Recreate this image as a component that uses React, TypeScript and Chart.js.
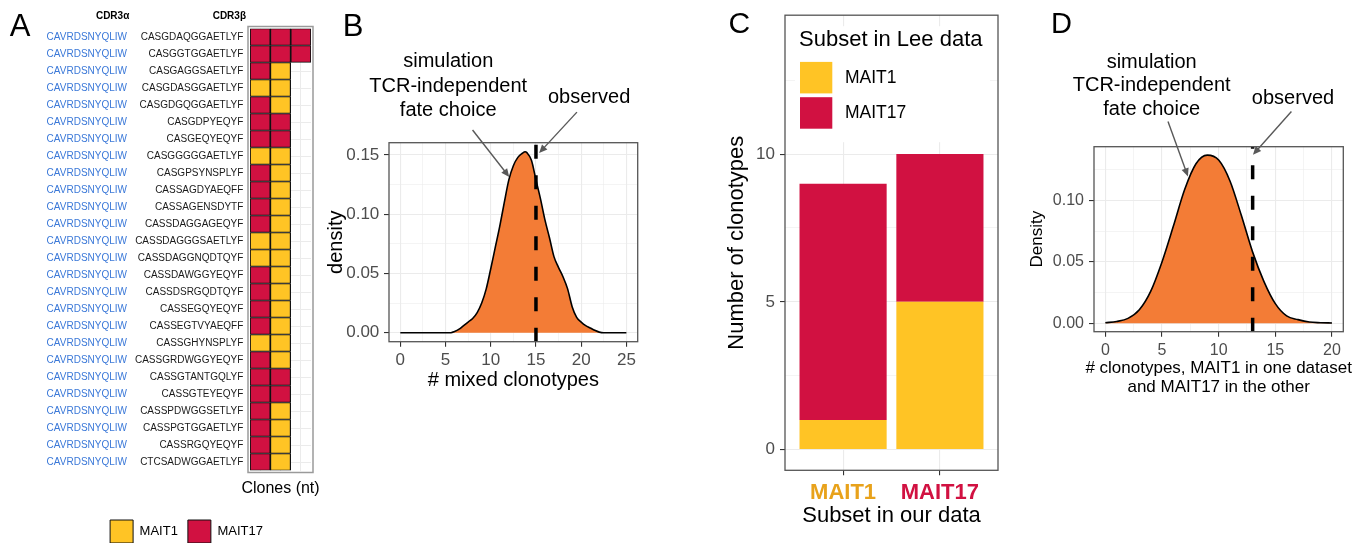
import React, { useEffect, useRef } from 'react';
import { Chart, registerables } from 'chart.js';

Chart.register(...registerables);

const FONT = '"Liberation Sans", Arial, Helvetica, sans-serif';
Chart.defaults.font.family = FONT;
Chart.defaults.color = '#000';

const YELLOW = '#FFC425';
const RED = '#D11141';
const ORANGE = '#F37C36';
const GRID = '#EBEBEB';
const TICK_TEXT = '#4D4D4D';
const AXIS_LINE = '#333333';
const BORDER = '#555555';
const BLUE = '#3A78D8';

// ---------------- Panel A data ----------------
const cdr3Alpha = [
  'CAVRDSNYQLIW', 'CAVRDSNYQLIW', 'CAVRDSNYQLIW', 'CAVRDSNYQLIW', 'CAVRDSNYQLIW',
  'CAVRDSNYQLIW', 'CAVRDSNYQLIW', 'CAVRDSNYQLIW', 'CAVRDSNYQLIW', 'CAVRDSNYQLIW',
  'CAVRDSNYQLIW', 'CAVRDSNYQLIW', 'CAVRDSNYQLIW', 'CAVRDSNYQLIW', 'CAVRDSNYQLIW',
  'CAVRDSNYQLIW', 'CAVRDSNYQLIW', 'CAVRDSNYQLIW', 'CAVRDSNYQLIW', 'CAVRDSNYQLIW',
  'CAVRDSNYQLIW', 'CAVRDSNYQLIW', 'CAVRDSNYQLIW', 'CAVRDSNYQLIW', 'CAVRDSNYQLIW',
  'CAVRDSNYQLIW',
];
const cdr3Beta = [
  'CASGDAQGGAETLYF', 'CASGGTGGAETLYF', 'CASGAGGSAETLYF', 'CASGDASGGAETLYF', 'CASGDGQGGAETLYF',
  'CASGDPYEQYF', 'CASGEQYEQYF', 'CASGGGGGAETLYF', 'CASGPSYNSPLYF', 'CASSAGDYAEQFF',
  'CASSAGENSDYTF', 'CASSDAGGAGEQYF', 'CASSDAGGGSAETLYF', 'CASSDAGGNQDTQYF', 'CASSDAWGGYEQYF',
  'CASSDSRGQDTQYF', 'CASSEGQYEQYF', 'CASSEGTVYAEQFF', 'CASSGHYNSPLYF', 'CASSGRDWGGYEQYF',
  'CASSGTANTGQLYF', 'CASSGTEYEQYF', 'CASSPDWGGSETLYF', 'CASSPGTGGAETLYF', 'CASSRGQYEQYF',
  'CTCSADWGGAETLYF',
];
const clone1Subset = [
  'MAIT17', 'MAIT17', 'MAIT17', 'MAIT1', 'MAIT17', 'MAIT17', 'MAIT17', 'MAIT1', 'MAIT17', 'MAIT17',
  'MAIT17', 'MAIT17', 'MAIT1', 'MAIT1', 'MAIT17', 'MAIT17', 'MAIT17', 'MAIT17', 'MAIT1', 'MAIT17',
  'MAIT17', 'MAIT17', 'MAIT17', 'MAIT17', 'MAIT17', 'MAIT17',
];
const clone2Subset = [
  'MAIT17', 'MAIT17', 'MAIT1', 'MAIT1', 'MAIT1', 'MAIT17', 'MAIT17', 'MAIT1', 'MAIT1', 'MAIT1',
  'MAIT1', 'MAIT1', 'MAIT1', 'MAIT1', 'MAIT1', 'MAIT1', 'MAIT1', 'MAIT1', 'MAIT1', 'MAIT1',
  'MAIT17', 'MAIT17', 'MAIT1', 'MAIT1', 'MAIT1', 'MAIT1',
];
const clone3Subset = [
  'MAIT17', 'MAIT17', null, null, null, null, null, null, null, null,
  null, null, null, null, null, null, null, null, null, null,
  null, null, null, null, null, null,
];
const subsetNames = ['MAIT1', 'MAIT17'];
const subsetColors: any = { MAIT1: YELLOW, MAIT17: RED };

// ---------------- Panel B data ----------------
const bMixedClonotypes = [
  0, 5, 5.6, 6, 6.5, 7, 7.5, 8, 8.5, 9, 9.5, 10, 10.5, 11, 11.5, 12, 12.5, 13, 13.5, 13.8,
  14, 14.5, 15, 15.5, 16, 16.5, 17, 17.5, 18, 18.5, 19, 19.5, 20, 20.5, 21, 21.5, 22, 22.5, 25,
];
const bDensity = [
  0, 0, 0, 0.001, 0.003, 0.006, 0.009, 0.012, 0.017, 0.025, 0.037, 0.054, 0.072, 0.09, 0.11, 0.129, 0.141, 0.148, 0.1515, 0.1528,
  0.152, 0.1455, 0.129, 0.113, 0.095, 0.08, 0.064, 0.055, 0.047, 0.037, 0.022, 0.013, 0.009, 0.006, 0.004, 0.002, 0.0005, 0, 0,
];
const bObserved = 15;
const bXMajor = [0, 5, 10, 15, 20, 25];
const bXMinor = [2.5, 7.5, 12.5, 17.5, 22.5];
const bYMajor = [0, 0.05, 0.1, 0.15];
const bYMinor = [0.025, 0.075, 0.125];

// ---------------- Panel C data ----------------
const cOurSubset = ['MAIT1', 'MAIT17'];
const cLeeMAIT1 = [1, 5];
const cLeeMAIT17 = [8, 5];
const cLabelColors = ['#E8A21B', '#D11141'];
const cYMajor = [0, 5, 10];
const cYMinor = [2.5, 7.5, 12.5];
const cLegendTitle = 'Subset in Lee data';

// ---------------- Panel D data ----------------
const dClonotypes = [0, 1, 2, 3, 4, 5, 6, 7, 8, 9, 10, 11, 12, 13, 14, 15, 16, 17, 18, 19, 20];
const dDensity = [
  0.0005, 0.0015, 0.004, 0.011, 0.026, 0.05, 0.079, 0.109, 0.13, 0.137, 0.133,
  0.116, 0.088, 0.058, 0.034, 0.016, 0.006, 0.003, 0.001, 0.0005, 0.0003,
];
const dObserved = 13;
const dXMajor = [0, 5, 10, 15, 20];
const dXMinor = [2.5, 7.5, 12.5, 17.5];
const dYMajor = [0, 0.05, 0.1];
const dYMinor = [0.025, 0.075, 0.125];

const simulationLines = ['simulation', 'TCR-independent', 'fate choice'];
const observedLines = ['observed'];

// ---------------- helpers ----------------
function linAxis(o: any) {
  const isMajor = (v: number) => o.majors.some((m: number) => Math.abs(m - v) < 1e-9);
  const horizontal = o.position === 'bottom';
  const all = [...o.majors, ...o.minors].sort((a: number, b: number) => a - b);
  return {
    type: 'linear',
    position: o.position,
    min: o.min,
    max: o.max,
    offset: false,
    stacked: !!o.stacked,
    afterBuildTicks: (s: any) => {
      s.ticks = all.map((v: number) => ({ value: v }));
    },
    afterFit: (s: any) => {
      if (horizontal) s.height = o.size;
      else s.width = o.size;
    },
    ticks: {
      autoSkip: false,
      maxRotation: 0,
      minRotation: 0,
      padding: o.pad,
      color: o.tickColor || TICK_TEXT,
      font: { size: o.fontSize, weight: o.bold ? 'bold' : 'normal' },
      callback: (v: number) => (isMajor(v) ? o.fmt(v) : ''),
    },
    grid: {
      offset: false,
      color: GRID,
      lineWidth: (c: any) => (c.tick && isMajor(c.tick.value) ? 1.1 : 0.55),
      tickColor: (c: any) => (c.tick && isMajor(c.tick.value) ? AXIS_LINE : 'rgba(0,0,0,0)'),
      tickLength: 5,
      tickWidth: 1.1,
      drawTicks: true,
    },
    border: { display: false },
    title: {
      display: !!o.title,
      text: o.title || '',
      color: '#000',
      font: { size: o.titleSize || 12, lineHeight: 1.2 },
      padding: horizontal ? { top: 0, bottom: o.titlePad || 0 } : { top: o.titlePad || 0, bottom: 0 },
    },
  };
}

// draws an x-axis title without Chart.js's maxWidth squeeze
function xTitlePlugin(lines: string[], size: number, firstOffset: number, gap: number) {
  return {
    id: 'xTitle',
    afterDraw(chart: any) {
      const { ctx, chartArea: a } = chart;
      ctx.save();
      ctx.font = `${size}px ${FONT}`;
      ctx.fillStyle = '#000';
      ctx.textAlign = 'center';
      ctx.textBaseline = 'middle';
      lines.forEach((line, i) => ctx.fillText(line, (a.left + a.right) / 2, a.bottom + firstOffset + i * gap));
      ctx.restore();
    },
  };
}

function panelBorder(color: string, width: number, inflate: number) {
  return {
    id: 'panelBorder',
    afterDraw(chart: any) {
      const { ctx, chartArea: a } = chart;
      ctx.save();
      ctx.strokeStyle = color;
      ctx.lineWidth = width;
      ctx.strokeRect(a.left - inflate, a.top - inflate, a.right - a.left + 2 * inflate, a.bottom - a.top + 2 * inflate);
      ctx.restore();
    },
  };
}

function vlinePlugin(value: number) {
  return {
    id: 'vline',
    afterDatasetsDraw(chart: any) {
      const { ctx, chartArea: a, scales } = chart;
      const px = scales.x.getPixelForValue(value);
      ctx.save();
      ctx.strokeStyle = '#000';
      ctx.lineWidth = 3.5;
      ctx.lineCap = 'butt';
      ctx.setLineDash([14, 16.5]);
      ctx.beginPath();
      ctx.moveTo(px, a.bottom);
      ctx.lineTo(px, a.top);
      ctx.stroke();
      ctx.restore();
    },
  };
}

function drawArrow(ctx: any, x1: number, y1: number, x2: number, y2: number) {
  const ang = Math.atan2(y2 - y1, x2 - x1);
  const hl = 9;
  ctx.save();
  ctx.strokeStyle = '#595959';
  ctx.fillStyle = '#595959';
  ctx.lineWidth = 1.4;
  ctx.beginPath();
  ctx.moveTo(x1, y1);
  ctx.lineTo(x2 - hl * 0.7 * Math.cos(ang), y2 - hl * 0.7 * Math.sin(ang));
  ctx.stroke();
  ctx.beginPath();
  ctx.moveTo(x2, y2);
  ctx.lineTo(x2 - hl * Math.cos(ang - 0.42), y2 - hl * Math.sin(ang - 0.42));
  ctx.lineTo(x2 - hl * Math.cos(ang + 0.42), y2 - hl * Math.sin(ang + 0.42));
  ctx.closePath();
  ctx.fill();
  ctx.restore();
}

function notesPlugin(notes: any) {
  return {
    id: 'notes',
    afterDraw(chart: any) {
      const { ctx, scales } = chart;
      const x = scales.x;
      const y = scales.y;
      ctx.save();
      ctx.font = `20px ${FONT}`;
      ctx.fillStyle = '#000';
      ctx.textAlign = 'center';
      ctx.textBaseline = 'middle';
      for (const t of notes.texts) {
        const cx = x.getPixelForValue(t.at[0]);
        const cy = y.getPixelForValue(t.at[1]);
        const n = t.lines.length;
        t.lines.forEach((line: string, i: number) => {
          ctx.fillText(line, cx, cy + (i - (n - 1) / 2) * notes.lineGap);
        });
      }
      for (const ar of notes.arrows) {
        drawArrow(ctx, x.getPixelForValue(ar[0]), y.getPixelForValue(ar[1]), x.getPixelForValue(ar[2]), y.getPixelForValue(ar[3]));
      }
      ctx.restore();
    },
  };
}

// ---------------- configs ----------------
function panelAConfig() {
  const cols = [clone1Subset, clone2Subset, clone3Subset];
  return {
    type: 'bar',
    data: {
      datasets: cols.map((col: any[], k: number) => ({
        label: `clone ${k + 1}`,
        data: col.map((s) => (s ? 1 : null)),
        backgroundColor: col.map((s) => (s ? subsetColors[s] : 'rgba(0,0,0,0)')),
        borderColor: '#111111',
        borderWidth: 1.2,
        borderSkipped: false,
        barPercentage: 1,
        categoryPercentage: 1,
        xAxisID: 'x',
        yAxisID: 'yb',
      })),
    },
    options: {
      indexAxis: 'y',
      responsive: false,
      animation: false,
      layout: { padding: { top: 28.5, left: 0, right: 0, bottom: 0 } },
      plugins: {
        tooltip: { enabled: false },
        legend: {
          position: 'bottom',
          labels: {
            boxWidth: 23,
            boxHeight: 23,
            padding: 10,
            color: '#000',
            font: { size: 13 },
            generateLabels: () =>
              subsetNames.map((s) => ({
                text: s,
                fillStyle: subsetColors[s],
                strokeStyle: '#111111',
                lineWidth: 1,
                hidden: false,
              })),
          },
        },
      },
      scales: {
        x: {
          type: 'linear',
          position: 'bottom',
          stacked: true,
          min: 0,
          max: 3,
          offset: false,
          afterBuildTicks: (s: any) => {
            s.ticks = [0.5, 1.5, 2.5].map((v) => ({ value: v }));
          },
          afterFit: (s: any) => {
            s.height = 39.5;
          },
          ticks: { display: false },
          grid: { color: GRID, lineWidth: 1, drawTicks: false, offset: false },
          border: { display: false },
          title: { display: false },
        },
        yb: {
          type: 'category',
          labels: cdr3Beta,
          position: 'left',
          weight: 0,
          stacked: true,
          offset: true,
          afterFit: (s: any) => {
            s.width = 118;
          },
          grid: { offset: false, color: GRID, lineWidth: 1, drawTicks: false },
          border: { display: false },
          ticks: { color: '#1a1a1a', font: { size: 10 }, padding: 6.7, autoSkip: false },
        },
        ya: {
          type: 'category',
          labels: cdr3Alpha,
          position: 'left',
          weight: 1,
          offset: true,
          afterFit: (s: any) => {
            s.width = 132;
          },
          grid: { display: false, drawTicks: false },
          border: { display: false },
          ticks: { color: BLUE, font: { size: 10 }, padding: 5, autoSkip: false },
        },
        pad: {
          type: 'linear',
          position: 'right',
          afterFit: (s: any) => {
            s.width = 62;
          },
          ticks: { display: false },
          grid: { display: false, drawTicks: false },
          border: { display: false },
        },
      },
    },
    plugins: [
      {
        id: 'headers',
        afterDraw(chart: any) {
          const { ctx, chartArea: a, scales } = chart;
          ctx.save();
          ctx.font = `bold 10px ${FONT}`;
          ctx.fillStyle = '#000';
          ctx.textAlign = 'right';
          ctx.textBaseline = 'middle';
          ctx.fillText('CDR3α', scales.ya.right - 2.7, a.top - 11.8);
          ctx.fillText('CDR3β', scales.yb.right - 4, a.top - 11.8);
          ctx.restore();
        },
      },
      xTitlePlugin(['Clones (nt)'], 16, 18.5, 0),
      panelBorder('#9a9a9a', 1.5, 2),
    ],
  };
}

function densityConfig(p: any) {
  return {
    type: 'line',
    data: {
      datasets: [
        {
          data: p.xs.map((x: number, i: number) => ({ x, y: p.ys[i] })),
          borderColor: '#000',
          borderWidth: 1.6,
          backgroundColor: ORANGE,
          fill: 'origin',
          pointRadius: 0,
          cubicInterpolationMode: 'monotone',
        },
      ],
    },
    options: {
      responsive: false,
      animation: false,
      layout: { padding: { top: p.top, right: p.right, left: 0, bottom: 0 } },
      plugins: { legend: { display: false }, tooltip: { enabled: false } },
      scales: { x: linAxis(p.xAxis), y: linAxis(p.yAxis) },
    },
    plugins: [
      vlinePlugin(p.observed),
      panelBorder(BORDER, 1.3, 0),
      notesPlugin(p.notes),
      ...(p.xTitle ? [xTitlePlugin(p.xTitle.lines, p.xTitle.size, p.xTitle.offset, p.xTitle.gap)] : []),
    ],
  };
}

const panelB = {
  xs: bMixedClonotypes,
  ys: bDensity,
  observed: bObserved,
  top: 142.7,
  right: 12.3,
  xAxis: {
    position: 'bottom', min: -1.25, max: 26.25, majors: bXMajor, minors: bXMinor,
    fmt: (v: number) => String(v), fontSize: 17, pad: 3.8, size: 58.3,
    title: '# mixed clonotypes', titleSize: 20, titlePad: 8,
  },
  yAxis: {
    position: 'left', min: -0.0076, max: 0.1604, majors: bYMajor, minors: bYMinor,
    fmt: (v: number) => v.toFixed(2), fontSize: 17, pad: 4.7, size: 69,
    title: 'density', titleSize: 20, titlePad: 4,
  },
  notes: {
    lineGap: 24.5,
    texts: [
      { lines: simulationLines, at: [5.3, 0.2081] },
      { lines: observedLines, at: [20.88, 0.1989] },
    ],
    arrows: [
      [7.99, 0.1711, 12.05, 0.1315],
      [19.53, 0.1862, 15.35, 0.1517],
    ],
  },
};

const panelD = {
  xs: dClonotypes,
  ys: dDensity,
  observed: dObserved,
  top: 146.7,
  right: 19.7,
  xAxis: {
    position: 'bottom', min: -1, max: 21, majors: dXMajor, minors: dXMinor,
    fmt: (v: number) => String(v), fontSize: 16, pad: 4.3, size: 68.3,
  },
  xTitle: {
    lines: ['# clonotypes, MAIT1 in one dataset', 'and MAIT17 in the other'],
    size: 17, offset: 36.3, gap: 19.5,
  },
  yAxis: {
    position: 'left', min: -0.00685, max: 0.1439, majors: dYMajor, minors: dYMinor,
    fmt: (v: number) => v.toFixed(2), fontSize: 16, pad: 5, size: 74,
    title: 'Density', titleSize: 17, titlePad: 6.8,
  },
  notes: {
    lineGap: 23.5,
    texts: [
      { lines: simulationLines, at: [4.09, 0.1935] },
      { lines: observedLines, at: [16.56, 0.1829] },
    ],
    arrows: [
      [5.53, 0.1645, 7.29, 0.1197],
      [16.42, 0.1726, 13.03, 0.1374],
    ],
  },
};

function panelCConfig() {
  return {
    type: 'bar',
    data: {
      datasets: [
        {
          label: 'MAIT1',
          data: cLeeMAIT1.map((v, i) => ({ x: i + 1, y: v })),
          backgroundColor: YELLOW,
          barPercentage: 1,
          categoryPercentage: 0.9,
        },
        {
          label: 'MAIT17',
          data: cLeeMAIT17.map((v, i) => ({ x: i + 1, y: v })),
          backgroundColor: RED,
          barPercentage: 1,
          categoryPercentage: 0.9,
        },
      ],
    },
    options: {
      responsive: false,
      animation: false,
      layout: { padding: { top: 8.3, right: 22, left: 0, bottom: 0 } },
      plugins: { legend: { display: false }, tooltip: { enabled: false } },
      scales: {
        x: linAxis({
          position: 'bottom', min: 0.4, max: 2.6, majors: [1, 2], minors: [], stacked: true,
          fmt: (v: number) => cOurSubset[Math.round(v) - 1],
          tickColor: (c: any) => cLabelColors[c.index] || TICK_TEXT,
          bold: true, fontSize: 22, pad: 4.3, size: 72.7,
          title: 'Subset in our data', titleSize: 22, titlePad: 13.8,
        }),
        y: linAxis({
          position: 'left', min: -0.7, max: 14.7, majors: cYMajor, minors: cYMinor, stacked: true,
          fmt: (v: number) => String(v), fontSize: 17, pad: 5, size: 65,
          title: 'Number of clonotypes', titleSize: 22, titlePad: 3.5,
        }),
      },
    },
    plugins: [
      panelBorder(BORDER, 1.3, 0),
      {
        id: 'cLegend',
        afterDatasetsDraw(chart: any) {
          const { ctx, chartArea: a } = chart;
          ctx.save();
          ctx.fillStyle = '#fff';
          ctx.fillRect(a.left + 10, a.top + 11, 195, 116);
          ctx.fillStyle = '#000';
          ctx.textAlign = 'left';
          ctx.textBaseline = 'middle';
          ctx.font = `22px ${FONT}`;
          ctx.fillText(cLegendTitle, a.left + 14, a.top + 24.7);
          ctx.font = `17.5px ${FONT}`;
          chart.data.datasets.forEach((ds: any, i: number) => {
            const top = a.top + 46.7 + i * 35.3;
            ctx.fillStyle = ds.backgroundColor;
            ctx.fillRect(a.left + 15, top, 32.3, 31.5);
            ctx.fillStyle = '#000';
            ctx.fillText(ds.label, a.left + 60, top + 16);
          });
          ctx.restore();
        },
      },
    ],
  };
}

const letters = [
  { ch: 'A', left: 9.8, baseline: 36.7, size: 31 },
  { ch: 'B', left: 342.7, baseline: 36.7, size: 31 },
  { ch: 'C', left: 728.5, baseline: 33, size: 30 },
  { ch: 'D', left: 1051, baseline: 33.3, size: 29 },
];

export default function App() {
  const aRef = useRef<HTMLCanvasElement>(null);
  const bRef = useRef<HTMLCanvasElement>(null);
  const cRef = useRef<HTMLCanvasElement>(null);
  const dRef = useRef<HTMLCanvasElement>(null);

  useEffect(() => {
    const charts = [
      new Chart(aRef.current as any, panelAConfig() as any),
      new Chart(bRef.current as any, densityConfig(panelB) as any),
      new Chart(cRef.current as any, panelCConfig() as any),
      new Chart(dRef.current as any, densityConfig(panelD) as any),
    ];
    return () => charts.forEach((c) => c.destroy());
  }, []);

  return (
    <div
      style={{
        position: 'fixed',
        left: 0,
        top: 0,
        width: 1363,
        height: 543,
        overflow: 'hidden',
        background: '#fff',
        fontFamily: FONT,
      }}
    >
      <canvas ref={aRef} width={373} height={553} style={{ position: 'absolute', left: 0, top: 0 }} />
      <canvas ref={bRef} width={330} height={400} style={{ position: 'absolute', left: 320, top: 0 }} />
      <canvas ref={cRef} width={300} height={543} style={{ position: 'absolute', left: 720, top: 0 }} />
      <canvas ref={dRef} width={343} height={400} style={{ position: 'absolute', left: 1020, top: 0 }} />
      {letters.map((l) => (
        <div
          key={l.ch}
          style={{
            position: 'absolute',
            left: l.left,
            top: l.baseline - 0.8465 * l.size,
            fontSize: l.size,
            lineHeight: `${l.size}px`,
            color: '#000',
            fontFamily: FONT,
          }}
        >
          {l.ch}
        </div>
      ))}
    </div>
  );
}
